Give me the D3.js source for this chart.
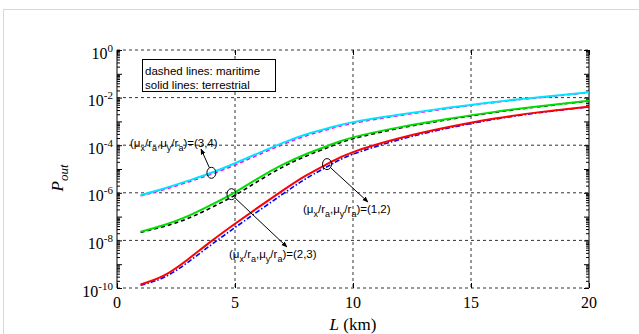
<!DOCTYPE html>
<html>
<head>
<meta charset="utf-8">
<script src="https://cdn.jsdelivr.net/npm/d3@7"></script>
<style>
  body { margin: 0; background: #fff; }
  svg { display: block; }
</style>
</head>
<body>
<svg width="639" height="334"></svg>
<script>
// distance L (km) and log10 of P_out
var L = [1, 2, 3, 4, 5, 6, 7, 8, 9, 10, 12, 14, 16, 18, 20];

var terr34 = [-6.10, -5.82, -5.50, -5.16, -4.76, -4.33, -3.91, -3.55, -3.27, -3.03, -2.71, -2.43, -2.18, -1.97, -1.78];
var mari34 = [-6.13, -5.86, -5.55, -5.22, -4.83, -4.40, -3.98, -3.61, -3.32, -3.08, -2.75, -2.46, -2.20, -1.99, -1.79];
var terr23 = [-7.63, -7.35, -6.98, -6.50, -5.98, -5.38, -4.83, -4.38, -4.00, -3.67, -3.24, -2.90, -2.60, -2.35, -2.13];
var mari23 = [-7.66, -7.41, -7.08, -6.62, -6.10, -5.50, -4.93, -4.46, -4.07, -3.73, -3.28, -2.93, -2.62, -2.37, -2.14];
var terr12 = [-9.85, -9.47, -8.80, -8.03, -7.30, -6.60, -5.92, -5.28, -4.74, -4.29, -3.70, -3.25, -2.88, -2.60, -2.38];
var mari12 = [-9.88, -9.55, -8.92, -8.18, -7.46, -6.76, -6.07, -5.41, -4.85, -4.38, -3.76, -3.29, -2.91, -2.62, -2.39];

var xTicks = [0, 5, 10, 15, 20];
var yExps = [0, -2, -4, -6, -8, -10];

var series = [
  { vals: mari34, color: "#ff00ff", dash: "4,3", w: 1.6 },
  { vals: mari23, color: "#000000", dash: "4,3", w: 1.6 },
  { vals: mari12, color: "#0000ff", dash: "5,2,1.5,2", w: 1.6 },
  { vals: terr34, color: "#00e5ff", dash: null, w: 2 },
  { vals: terr23, color: "#00dd00", dash: null, w: 2 },
  { vals: terr12, color: "#ff0000", dash: null, w: 2 }
];

var svg = d3.select("svg");

// light outer frame
svg.append("rect").attr("x", 3.5).attr("y", 9.5).attr("width", 650).attr("height", 340)
  .attr("fill", "none").attr("stroke", "#d8d8d8");

var x = d3.scaleLinear().domain([0, 20]).range([117, 589]);
var y = d3.scaleLog().domain([1e-10, 1]).range([288, 50]);

var g = svg.append("g");

// grid
g.selectAll(".gx").data(xTicks.slice(1, -1)).enter().append("line")
  .attr("x1", function(d) { return x(d); }).attr("x2", function(d) { return x(d); })
  .attr("y1", 50).attr("y2", 288)
  .attr("stroke", "#333").attr("stroke-width", 1).attr("stroke-dasharray", "3,3");
g.selectAll(".gy").data(yExps).enter().append("line")
  .attr("x1", 117).attr("x2", 589)
  .attr("y1", function(d) { return y(Math.pow(10, d)); }).attr("y2", function(d) { return y(Math.pow(10, d)); })
  .attr("stroke", "#333").attr("stroke-width", 1).attr("stroke-dasharray", "3,3");

// minor + major tick values for log axis
var yMajor = d3.range(-10, 1).map(function(e) { return Math.pow(10, e); });
var yMinor = [];
d3.range(-10, 0).forEach(function(e) {
  for (var k = 2; k < 10; k++) yMinor.push(k * Math.pow(10, e));
});

function yTicks(sel, side) {
  var axMaj = (side === "left" ? d3.axisLeft(y) : d3.axisRight(y)).tickValues(yMajor).tickSize(-5).tickFormat("");
  var axMin = (side === "left" ? d3.axisLeft(y) : d3.axisRight(y)).tickValues(yMinor).tickSize(-3).tickFormat("");
  sel.append("g").call(axMaj);
  sel.append("g").call(axMin);
  sel.selectAll(".domain").remove();
  sel.selectAll("line").attr("stroke", "#000");
}
yTicks(svg.append("g").attr("transform", "translate(117,0)"), "left");
yTicks(svg.append("g").attr("transform", "translate(589,0)"), "right");

var xb = svg.append("g").attr("transform", "translate(0,288)")
  .call(d3.axisBottom(x).tickValues(xTicks).tickSize(-5).tickFormat(""));
var xt = svg.append("g").attr("transform", "translate(0,50)")
  .call(d3.axisTop(x).tickValues(xTicks).tickSize(-5).tickFormat(""));
[xb, xt].forEach(function(a) { a.select(".domain").remove(); a.selectAll("line").attr("stroke", "#000"); });

// axis frame
svg.append("line").attr("x1", 117).attr("x2", 117).attr("y1", 50).attr("y2", 288).attr("stroke", "#000");
svg.append("line").attr("x1", 589).attr("x2", 589).attr("y1", 50).attr("y2", 288).attr("stroke", "#000");

// curves
var line = d3.line()
  .x(function(d) { return x(d[0]); })
  .y(function(d) { return y(Math.pow(10, d[1])); })
  .curve(d3.curveNatural);

series.forEach(function(s) {
  svg.append("path")
    .attr("d", line(L.map(function(l, i) { return [l, s.vals[i]]; })))
    .attr("fill", "none")
    .attr("stroke", s.color)
    .attr("stroke-width", s.w)
    .attr("stroke-dasharray", s.dash);
});

// tick labels
var serif = "'Liberation Serif', 'Times New Roman', serif";
svg.selectAll(".xl").data(xTicks).enter().append("text")
  .attr("x", function(d) { return x(d); }).attr("y", 308)
  .attr("text-anchor", "middle").attr("font-family", serif).attr("font-size", 16)
  .text(function(d) { return d; });

yExps.forEach(function(e) {
  var t = svg.append("text")
    .attr("x", 113).attr("y", y(Math.pow(10, e)) + 8.5)
    .attr("text-anchor", "end").attr("font-family", serif).attr("font-size", 16);
  t.append("tspan").text("10");
  t.append("tspan").attr("font-size", 11).attr("dy", -7).text(e);
});

// axis titles
var xl = svg.append("text").attr("x", 353).attr("y", 330).attr("text-anchor", "middle")
  .attr("font-family", serif).attr("font-size", 17);
xl.append("tspan").attr("font-style", "italic").text("L");
xl.append("tspan").text(" (km)");

var yl = svg.append("text").attr("transform", "translate(63,178) rotate(-90)")
  .attr("text-anchor", "middle").attr("font-family", serif).attr("font-size", 17).attr("font-style", "italic");
yl.append("tspan").text("P");
yl.append("tspan").attr("font-size", 13).attr("dy", 5).text("out");

// legend note
svg.append("rect").attr("x", 142.5).attr("y", 59.5).attr("width", 133).attr("height", 32)
  .attr("fill", "#fff").attr("stroke", "#000");
var sans = "'Liberation Sans', Arial, sans-serif";
svg.append("text").attr("x", 145).attr("y", 75).attr("font-family", sans).attr("font-size", 11.5)
  .text("dashed lines: maritime");
svg.append("text").attr("x", 145).attr("y", 88.5).attr("font-family", sans).attr("font-size", 11.5)
  .text("solid lines: terrestrial");

// annotations
var notes = [
  { label: "(3,4)", at: 4.0, vals: terr34, tx: 130, ty: 147, ax: 201, ay: 149 },
  { label: "(2,3)", at: 4.85, vals: terr23, tx: 229, ty: 258, ax: 287, ay: 247 },
  { label: "(1,2)", at: 8.9, vals: terr12, tx: 303, ty: 213, ax: 368, ay: 202 }
];

var defs = svg.append("defs");
defs.append("marker").attr("id", "ah").attr("viewBox", "0 0 10 10")
  .attr("refX", 9).attr("refY", 5).attr("markerWidth", 6).attr("markerHeight", 6)
  .attr("orient", "auto")
  .append("path").attr("d", "M0,1 L10,5 L0,9 z").attr("fill", "#000");

notes.forEach(function(n) {
  var i = L.indexOf(Math.floor(n.at));
  var f = n.at - L[i];
  var v = n.vals[i] + f * (n.vals[i + 1] - n.vals[i]);
  var cx = x(n.at), cy = y(Math.pow(10, v));
  svg.append("ellipse").attr("cx", cx).attr("cy", cy).attr("rx", 4.5).attr("ry", 5.5)
    .attr("fill", "none").attr("stroke", "#000").attr("stroke-width", 1);
  var dx = n.ax - cx, dy = n.ay - cy, len = Math.sqrt(dx * dx + dy * dy);
  svg.append("line")
    .attr("x1", cx + dx / len * 5).attr("y1", cy + dy / len * 5.5)
    .attr("x2", n.ax).attr("y2", n.ay)
    .attr("stroke", "#000").attr("stroke-width", 1).attr("marker-end", "url(#ah)");
  var t = svg.append("text").attr("x", n.tx).attr("y", n.ty)
    .attr("font-family", sans).attr("font-size", 11.5);
  t.append("tspan").text("(\u03bc");
  t.append("tspan").attr("font-size", 9).attr("dy", 4).text("x");
  t.append("tspan").attr("dy", -4).text("/r");
  t.append("tspan").attr("font-size", 9).attr("dy", 4).text("a");
  t.append("tspan").attr("dy", -4).text(",\u03bc");
  t.append("tspan").attr("font-size", 9).attr("dy", 4).text("y");
  t.append("tspan").attr("dy", -4).text("/r");
  t.append("tspan").attr("font-size", 9).attr("dy", 4).text("a");
  t.append("tspan").attr("dy", -4).text(")=" + n.label);
});
</script>
</body>
</html>
